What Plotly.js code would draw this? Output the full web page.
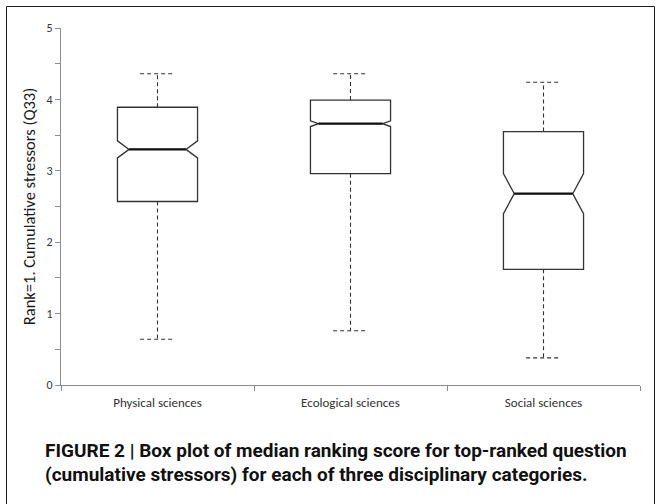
<!DOCTYPE html>
<html>
<head>
<meta charset="utf-8">
<script src="https://cdn.plot.ly/plotly-3.0.1.min.js"></script>
<style>
  html, body { margin: 0; padding: 0; background: #ffffff; }
  #chart { width: 661px; height: 504px; }
</style>
</head>
<body>
<div id="chart"></div>
<script>
// ---- data ----
var categories = ["Physical sciences", "Ecological sciences", "Social sciences"];
var lowerWhisker = [0.64, 0.76, 0.38];
var q1Values     = [2.57, 2.96, 1.62];
var medianValues = [3.30, 3.66, 2.68];
var q3Values     = [3.89, 3.99, 3.55];
var upperWhisker = [4.36, 4.36, 4.24];
var notchSpans   = [0.12, 0.04, 0.28];
var yTickValues  = [0, 1, 2, 3, 4, 5];
var yTitle = "Rank=1. Cumulative stressors (Q33)";
var captionLines = [
  "FIGURE 2 | Box plot of median ranking score for top-ranked question",
  "(cumulative stressors) for each of three disciplinary categories."
];

// ---- styling ----
var boxWidth = 0.415;
var capHalf = 0.09;
var notchWidths = [0.145, 0.10, 0.135];
var boxColor = "#333333";
var axisColor = "#8c8c8c";
var labelFamily = "Carlito, Lato, 'Open Sans', sans-serif";

var traces = [];
categories.forEach(function (cat, i) {
  traces.push({
    type: "box",
    x: [i],
    q1: [q1Values[i]],
    median: [medianValues[i]],
    q3: [q3Values[i]],
    lowerfence: [q1Values[i]],
    upperfence: [q3Values[i]],
    notched: true,
    notchspan: [notchSpans[i]],
    notchwidth: notchWidths[i],
    width: boxWidth,
    whiskerwidth: 0,
    fillcolor: "rgba(255,255,255,0)",
    line: {color: boxColor, width: 1.3},
    boxpoints: false,
    hoverinfo: "skip",
    showlegend: false
  });
  // thicker median line
  var inset = boxWidth * notchWidths[i];
  traces.push({
    type: "scatter", mode: "lines",
    x: [i - boxWidth / 2 + inset, i + boxWidth / 2 - inset],
    y: [medianValues[i], medianValues[i]],
    line: {color: "#111111", width: 2.2},
    hoverinfo: "skip", showlegend: false
  });
  // dashed whiskers and caps
  traces.push({
    type: "scatter", mode: "lines",
    x: [i, i, null, i - capHalf, i + capHalf, null, i, i, null, i - capHalf, i + capHalf],
    y: [q3Values[i], upperWhisker[i], null, upperWhisker[i], upperWhisker[i], null,
        q1Values[i], lowerWhisker[i], null, lowerWhisker[i], lowerWhisker[i]],
    line: {color: boxColor, width: 1.1, dash: "4px,3px"},
    hoverinfo: "skip", showlegend: false
  });
});

var L = 61, R = 21, T = 28, B = 119;
var W = 661, H = 504;
var pw = W - L - R, ph = H - T - B;
function px2paperX(px) { return (px - L) / pw; }
function px2paperY(py) { return (H - B - py) / ph; }

var layout = {
  width: W, height: H,
  margin: {l: L, r: R, t: T, b: B, pad: 0},
  paper_bgcolor: "#ffffff",
  plot_bgcolor: "#ffffff",
  showlegend: false,
  boxmode: "overlay",
  xaxis: {
    range: [-0.5, 2.5],
    tickmode: "array",
    tickvals: [0, 1, 2],
    ticktext: categories,
    ticks: "outside", ticklen: 5, tickcolor: "rgba(0,0,0,0)",
    tickfont: {family: labelFamily, size: 13, color: "#333333"},
    showline: true, linecolor: axisColor, linewidth: 1,
    showgrid: false, zeroline: false,
    minor: {tickmode: "array", tickvals: [-0.5, 0.5, 1.5, 2.5], ticks: "outside", ticklen: 5, tickcolor: axisColor, showgrid: false},
    fixedrange: true
  },
  yaxis: {
    range: [0, 5],
    tickmode: "array",
    tickvals: yTickValues,
    ticks: "outside", ticklen: 5, tickcolor: axisColor,
    minor: {dtick: 0.5, ticks: "outside", ticklen: 5, tickcolor: axisColor, showgrid: false},
    tickfont: {family: labelFamily, size: 12, color: "#333333"},
    showline: true, linecolor: axisColor, linewidth: 1,
    showgrid: false, zeroline: false,
    title: {text: yTitle, font: {family: labelFamily, size: 16.5, color: "#1a1a1a"}, standoff: 6},
    fixedrange: true
  },
  shapes: [{
    type: "rect", xref: "paper", yref: "paper",
    x0: px2paperX(6.5), x1: px2paperX(654.5),
    y0: px2paperY(520), y1: px2paperY(6.5),
    line: {color: "#222222", width: 1}, fillcolor: "rgba(0,0,0,0)", layer: "below"
  }],
  annotations: captionLines.map(function (t, k) {
    return {
      xref: "paper", yref: "paper",
      x: px2paperX(43), y: px2paperY(450 + 24 * k),
      xanchor: "left", yanchor: "middle",
      text: "<b>" + t + "</b>", showarrow: false,
      font: {family: "'Liberation Sans Narrow', 'Roboto', 'Liberation Sans', sans-serif", size: 19, color: "#111111"}
    };
  })
};

Plotly.newPlot("chart", traces, layout, {displayModeBar: false, staticPlot: true});
</script>
</body>
</html>
